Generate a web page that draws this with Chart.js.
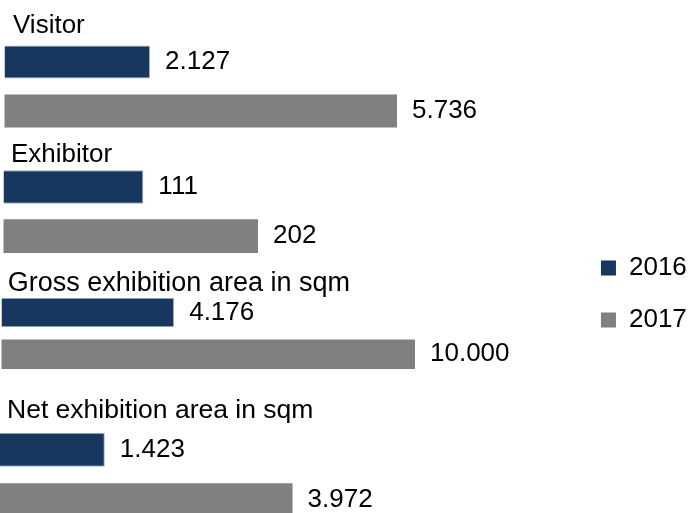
<!DOCTYPE html>
<html>
<head>
<meta charset="utf-8">
<script src="https://cdn.jsdelivr.net/npm/chart.js@4.4.1/dist/chart.umd.min.js"></script>
<style>
  html, body { margin: 0; padding: 0; background: #fff; overflow: hidden; }
  #wrap { position: relative; width: 689px; height: 513px; overflow: hidden; background: #fff; }
  #wrap canvas { position: absolute; left: 0; }
</style>
</head>
<body>
<div id="wrap"></div>
<script>
// Trade fair key figures, 2016 vs 2017
const categories = ['Visitor', 'Exhibitor', 'Gross exhibition area in sqm', 'Net exhibition area in sqm'];
const seriesNames = ['2016', '2017'];
const values2016 = [2127, 111, 4176, 1423];
const values2017 = [5736, 202, 10000, 3972];

const NAVY = '#17375e';
const NAVY_EDGE = '#a4b5ca';
const GRAY = '#808080';
const FONT = "'Liberation Sans', Arial, Helvetica, sans-serif";

// One panel per category, each with its own value scale.
const panels = [
  { top: 0,   height: 140, padTop: 37.6, padBottom: 4.4, catPct: 1,      barPct: 0.673, base: 4.5, pxPerUnit: 0.06843, captionX: 13,  captionY: 33,   captionSize: 26 },
  { top: 135, height: 128, padTop: 27.4, padBottom: 2.2, catPct: 1,      barPct: 0.685, base: 3.5, pxPerUnit: 1.26,    captionX: 11,  captionY: 26.7, captionSize: 26 },
  { top: 200, height: 240, padTop: 29,   padBottom: 2.2, catPct: 0.4004, barPct: 0.706, base: 1.5, pxPerUnit: 0.04135, captionX: 7.8, captionY: 91,   captionSize: 27, legend: true },
  { top: 390, height: 140, padTop: 34.5, padBottom: 4.5, catPct: 1,      barPct: 0.673, base: 0,   pxPerUnit: 0.07365, captionX: 7,   captionY: 28,   captionSize: 26.5 }
];

// 10000 -> "10.000"
function fmt(v) {
  return String(v).replace(/\B(?=(\d{3})+(?!\d))/g, '.');
}

// Category name above the pair of bars
const captionPlugin = {
  id: 'caption',
  afterDraw(chart, args, opts) {
    const ctx = chart.ctx;
    ctx.save();
    ctx.font = opts.size + 'px ' + FONT;
    ctx.fillStyle = '#000';
    ctx.textAlign = 'left';
    ctx.textBaseline = 'alphabetic';
    ctx.fillText(chart.data.labels[0], opts.x, opts.y);
    ctx.restore();
  }
};

// Value printed just past the end of each bar
const valueLabelPlugin = {
  id: 'valueLabels',
  afterDatasetsDraw(chart, args, opts) {
    const ctx = chart.ctx;
    ctx.save();
    ctx.font = opts.size + 'px ' + FONT;
    ctx.fillStyle = '#000';
    ctx.textAlign = 'left';
    ctx.textBaseline = 'middle';
    chart.data.datasets.forEach((ds, i) => {
      chart.getDatasetMeta(i).data.forEach((bar, j) => {
        ctx.fillText(fmt(ds.data[j]), bar.x + opts.gap, bar.y);
      });
    });
    ctx.restore();
  }
};

Chart.defaults.font.family = FONT;

const wrap = document.getElementById('wrap');

panels.forEach((p, k) => {
  const canvas = document.createElement('canvas');
  canvas.width = 689;
  canvas.height = p.height;
  canvas.style.width = '689px';
  canvas.style.height = p.height + 'px';
  canvas.style.top = p.top + 'px';
  wrap.appendChild(canvas);

  new Chart(canvas, {
    type: 'bar',
    data: {
      labels: [categories[k]],
      datasets: [
        { label: seriesNames[0], data: [values2016[k]], backgroundColor: NAVY, borderColor: NAVY_EDGE, borderWidth: 1 },
        { label: seriesNames[1], data: [values2017[k]], backgroundColor: GRAY, borderWidth: 0 }
      ]
    },
    options: {
      indexAxis: 'y',
      responsive: false,
      animation: false,
      events: [],
      datasets: { bar: { categoryPercentage: p.catPct, barPercentage: p.barPct } },
      layout: { padding: { top: p.padTop, bottom: p.padBottom, left: 0, right: p.legend ? -7.8 : 0 } },
      scales: {
        y: { display: false },
        x: {
          display: false,
          bounds: 'data',
          afterDataLimits(scale) {
            // zero sits at p.base px, p.pxPerUnit px per unit
            scale.min = -p.base / p.pxPerUnit;
            scale.max = (scale.width - p.base) / p.pxPerUnit;
          }
        }
      },
      plugins: {
        legend: {
          display: !!p.legend,
          position: 'right',
          align: 'start',
          labels: {
            boxWidth: 15,
            boxHeight: 15,
            padding: 26,
            color: '#000',
            font: { size: 26, family: FONT },
            generateLabels(chart) {
              return chart.data.datasets.map((ds, i) => ({
                text: ds.label,
                fillStyle: ds.backgroundColor,
                strokeStyle: ds.backgroundColor,
                lineWidth: 0,
                hidden: false,
                datasetIndex: i,
                fontColor: '#000'
              }));
            }
          }
        },
        tooltip: { enabled: false },
        caption: { x: p.captionX, y: p.captionY, size: p.captionSize },
        valueLabels: { gap: 15, size: 26 }
      }
    },
    plugins: [captionPlugin, valueLabelPlugin]
  });
});
</script>
</body>
</html>
